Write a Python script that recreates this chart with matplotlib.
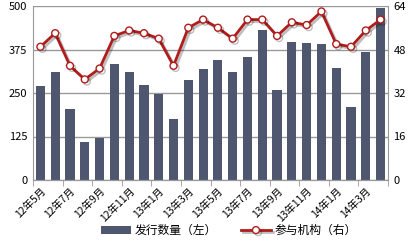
import numpy as np
import matplotlib
matplotlib.use("Agg")
import matplotlib.pyplot as plt
import matplotlib.patheffects as pe

plt.rcParams['font.family'] = ['Noto Sans CJK SC', 'DejaVu Sans']

months = ['12年5月', '12年6月', '12年7月', '12年8月', '12年9月', '12年10月',
          '12年11月', '12年12月', '13年1月', '13年2月', '13年3月', '13年4月',
          '13年5月', '13年6月', '13年7月', '13年8月', '13年9月', '13年10月',
          '13年11月', '13年12月', '14年1月', '14年2月', '14年3月', '14年4月']
issue_count = [271, 309, 203, 109, 121, 333, 310, 272, 247, 175, 286, 319,
               344, 309, 353, 431, 259, 397, 394, 392, 322, 211, 368, 493]
institutions = [49, 54, 42, 37, 41, 53, 55, 54, 52, 42, 56, 59,
                56, 52, 59, 59, 53, 58, 57, 62, 50, 49, 55, 59]

bar_color = '#4f5670'
line_color = '#b01c1c'
grid_color = '#999999'

fig = plt.figure(figsize=(4.16, 2.43), dpi=100)
ax = fig.add_axes([33 / 416, 1 - 180 / 243, (388 - 33) / 416, 174 / 243])
ax2 = ax.twinx()

x = np.arange(len(months))
bars = ax.bar(x, issue_count, width=0.62, color=bar_color, zorder=2,
              label='发行数量（左）')
line, = ax2.plot(x, institutions, color=line_color, lw=2, marker='o',
                 markersize=5, markerfacecolor='white', markeredgecolor=line_color,
                 markeredgewidth=1, zorder=3, label='参与机构（右）',
                 path_effects=[pe.SimpleLineShadow(offset=(1.5, -1.5), alpha=0.25),
                               pe.Normal()])

ax.set_xlim(-0.5, len(months) - 0.5)
ax.set_ylim(0, 500)
ax.set_yticks([0, 125, 250, 375, 500])
ax2.set_ylim(0, 64)
ax2.set_yticks([0, 16, 32, 48, 64])
ax.yaxis.grid(True, color=grid_color, lw=1, zorder=0)
ax.set_axisbelow(True)

ax.set_xticks(x[::2])
ax.set_xticklabels(months[::2], rotation=45, ha='right', va='top',
                   rotation_mode='anchor', fontsize=7.5)
ax.tick_params(axis='x', length=0, pad=4)
ax.set_xticks(np.arange(-0.5, len(months), 2), minor=True)
ax.tick_params(axis='x', which='minor', length=4, color=grid_color)

for a in (ax, ax2):
    a.tick_params(axis='y', length=0, labelsize=8, pad=4)
    a.spines['top'].set_visible(False)
    for s in ('left', 'right', 'bottom'):
        a.spines[s].set_color(grid_color)
ax.spines['right'].set_visible(False)
ax2.spines['left'].set_visible(False)

fig.legend([bars, line], ['发行数量（左）', '参与机构（右）'], loc='lower center',
           bbox_to_anchor=(0.55, -0.02), ncol=2, frameon=False, fontsize=8.5,
           handlelength=2.6, columnspacing=2.0, handletextpad=0.3)

fig.savefig('out.png', dpi=100)
